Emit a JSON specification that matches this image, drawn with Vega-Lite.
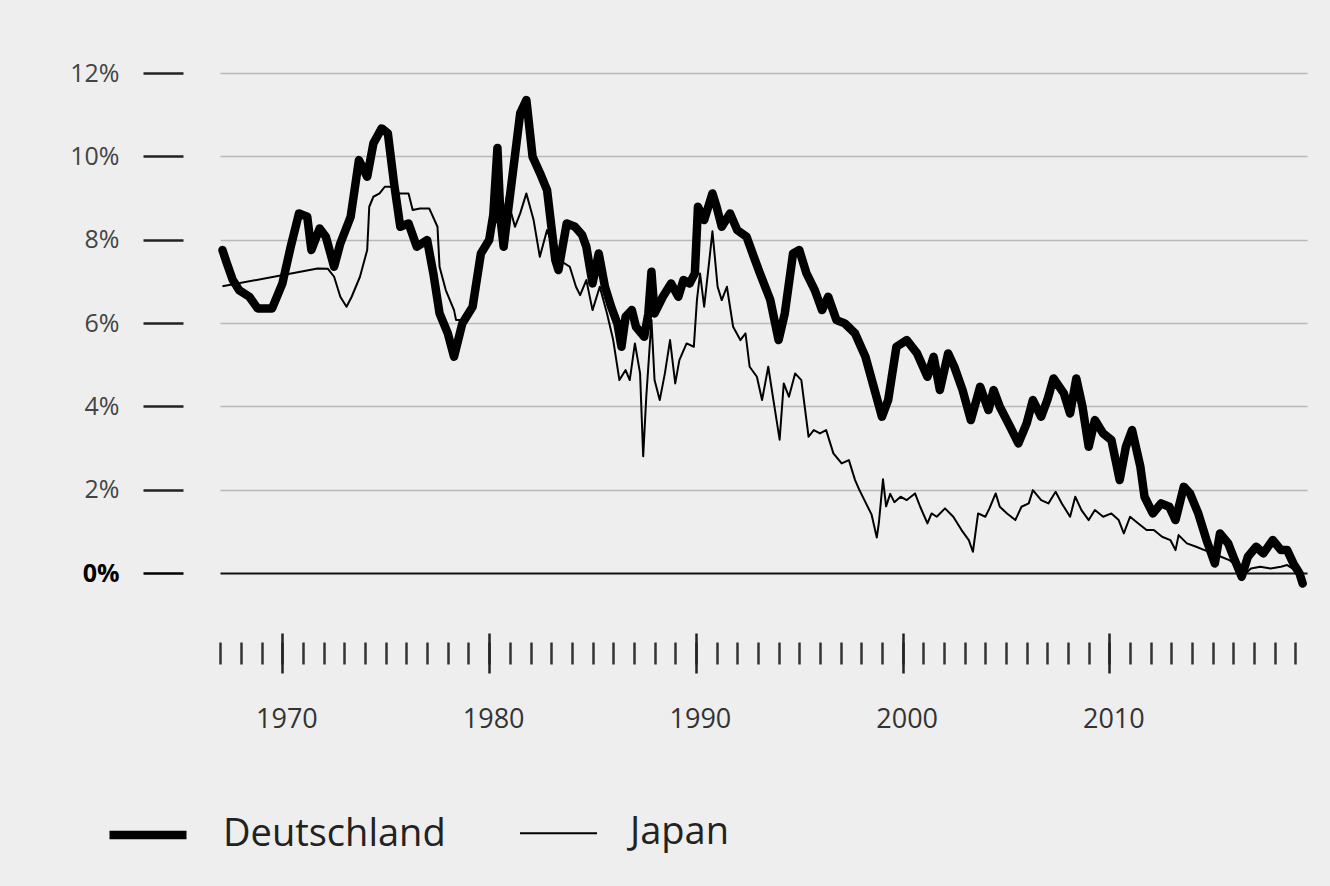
{
  "$schema": "https://vega.github.io/schema/vega-lite/v6.json",
  "autosize": {"type": "none"},
  "width": 1087,
  "height": 500,
  "padding": {"left": 220, "top": 73, "right": 23, "bottom": 313},
  "background": "#eeeeee",
  "config": {
    "view": {"stroke": null},
    "font": "Open Sans",
    "axis": {"labelFont": "Open Sans", "labelColor": "#333333", "domain": false, "title": null}
  },
  "data": {"values": [
    {"jahr": 1967.1, "land": "Deutschland", "wert": 7.75},
    {"jahr": 1967.3, "land": "Deutschland", "wert": 7.45},
    {"jahr": 1967.6, "land": "Deutschland", "wert": 7.03},
    {"jahr": 1967.9, "land": "Deutschland", "wert": 6.79},
    {"jahr": 1968.4, "land": "Deutschland", "wert": 6.63},
    {"jahr": 1968.8, "land": "Deutschland", "wert": 6.35},
    {"jahr": 1969.5, "land": "Deutschland", "wert": 6.35},
    {"jahr": 1970.0, "land": "Deutschland", "wert": 6.95},
    {"jahr": 1970.4, "land": "Deutschland", "wert": 7.83},
    {"jahr": 1970.8, "land": "Deutschland", "wert": 8.63},
    {"jahr": 1971.2, "land": "Deutschland", "wert": 8.55},
    {"jahr": 1971.4, "land": "Deutschland", "wert": 7.75},
    {"jahr": 1971.8, "land": "Deutschland", "wert": 8.27},
    {"jahr": 1972.1, "land": "Deutschland", "wert": 8.07},
    {"jahr": 1972.5, "land": "Deutschland", "wert": 7.35},
    {"jahr": 1972.8, "land": "Deutschland", "wert": 7.91},
    {"jahr": 1973.3, "land": "Deutschland", "wert": 8.55},
    {"jahr": 1973.7, "land": "Deutschland", "wert": 9.91},
    {"jahr": 1974.1, "land": "Deutschland", "wert": 9.51},
    {"jahr": 1974.4, "land": "Deutschland", "wert": 10.31},
    {"jahr": 1974.8, "land": "Deutschland", "wert": 10.67},
    {"jahr": 1975.1, "land": "Deutschland", "wert": 10.55},
    {"jahr": 1975.4, "land": "Deutschland", "wert": 9.35},
    {"jahr": 1975.7, "land": "Deutschland", "wert": 8.31},
    {"jahr": 1976.1, "land": "Deutschland", "wert": 8.39},
    {"jahr": 1976.5, "land": "Deutschland", "wert": 7.83},
    {"jahr": 1977.0, "land": "Deutschland", "wert": 7.99},
    {"jahr": 1977.3, "land": "Deutschland", "wert": 7.19},
    {"jahr": 1977.6, "land": "Deutschland", "wert": 6.23},
    {"jahr": 1978.0, "land": "Deutschland", "wert": 5.75},
    {"jahr": 1978.3, "land": "Deutschland", "wert": 5.19},
    {"jahr": 1978.7, "land": "Deutschland", "wert": 5.99},
    {"jahr": 1979.2, "land": "Deutschland", "wert": 6.39},
    {"jahr": 1979.6, "land": "Deutschland", "wert": 7.67},
    {"jahr": 1980.0, "land": "Deutschland", "wert": 7.99},
    {"jahr": 1980.2, "land": "Deutschland", "wert": 8.6},
    {"jahr": 1980.4, "land": "Deutschland", "wert": 10.2},
    {"jahr": 1980.55, "land": "Deutschland", "wert": 8.5},
    {"jahr": 1980.7, "land": "Deutschland", "wert": 7.83},
    {"jahr": 1981.2, "land": "Deutschland", "wert": 9.83},
    {"jahr": 1981.5, "land": "Deutschland", "wert": 11.03},
    {"jahr": 1981.8, "land": "Deutschland", "wert": 11.35},
    {"jahr": 1982.1, "land": "Deutschland", "wert": 9.99},
    {"jahr": 1982.5, "land": "Deutschland", "wert": 9.55},
    {"jahr": 1982.8, "land": "Deutschland", "wert": 9.19},
    {"jahr": 1983.2, "land": "Deutschland", "wert": 7.51},
    {"jahr": 1983.35, "land": "Deutschland", "wert": 7.27},
    {"jahr": 1983.75, "land": "Deutschland", "wert": 8.39},
    {"jahr": 1984.15, "land": "Deutschland", "wert": 8.31},
    {"jahr": 1984.5, "land": "Deutschland", "wert": 8.11},
    {"jahr": 1984.7, "land": "Deutschland", "wert": 7.83},
    {"jahr": 1985.0, "land": "Deutschland", "wert": 6.95},
    {"jahr": 1985.3, "land": "Deutschland", "wert": 7.67},
    {"jahr": 1985.6, "land": "Deutschland", "wert": 6.87},
    {"jahr": 1985.9, "land": "Deutschland", "wert": 6.39},
    {"jahr": 1986.2, "land": "Deutschland", "wert": 5.99},
    {"jahr": 1986.4, "land": "Deutschland", "wert": 5.43},
    {"jahr": 1986.6, "land": "Deutschland", "wert": 6.15},
    {"jahr": 1986.9, "land": "Deutschland", "wert": 6.31},
    {"jahr": 1987.1, "land": "Deutschland", "wert": 5.91},
    {"jahr": 1987.5, "land": "Deutschland", "wert": 5.67},
    {"jahr": 1987.7, "land": "Deutschland", "wert": 6.23},
    {"jahr": 1987.85, "land": "Deutschland", "wert": 7.23},
    {"jahr": 1988.0, "land": "Deutschland", "wert": 6.23},
    {"jahr": 1988.4, "land": "Deutschland", "wert": 6.63},
    {"jahr": 1988.8, "land": "Deutschland", "wert": 6.95},
    {"jahr": 1989.15, "land": "Deutschland", "wert": 6.63},
    {"jahr": 1989.4, "land": "Deutschland", "wert": 7.03},
    {"jahr": 1989.7, "land": "Deutschland", "wert": 6.95},
    {"jahr": 1989.95, "land": "Deutschland", "wert": 7.19},
    {"jahr": 1990.1, "land": "Deutschland", "wert": 8.79},
    {"jahr": 1990.4, "land": "Deutschland", "wert": 8.47},
    {"jahr": 1990.8, "land": "Deutschland", "wert": 9.11},
    {"jahr": 1991.0, "land": "Deutschland", "wert": 8.79},
    {"jahr": 1991.25, "land": "Deutschland", "wert": 8.31},
    {"jahr": 1991.65, "land": "Deutschland", "wert": 8.63},
    {"jahr": 1992.0, "land": "Deutschland", "wert": 8.23},
    {"jahr": 1992.45, "land": "Deutschland", "wert": 8.07},
    {"jahr": 1992.8, "land": "Deutschland", "wert": 7.59},
    {"jahr": 1993.1, "land": "Deutschland", "wert": 7.19},
    {"jahr": 1993.6, "land": "Deutschland", "wert": 6.55},
    {"jahr": 1994.0, "land": "Deutschland", "wert": 5.59},
    {"jahr": 1994.3, "land": "Deutschland", "wert": 6.23},
    {"jahr": 1994.7, "land": "Deutschland", "wert": 7.67},
    {"jahr": 1995.0, "land": "Deutschland", "wert": 7.75},
    {"jahr": 1995.35, "land": "Deutschland", "wert": 7.19},
    {"jahr": 1995.75, "land": "Deutschland", "wert": 6.79},
    {"jahr": 1996.1, "land": "Deutschland", "wert": 6.31},
    {"jahr": 1996.4, "land": "Deutschland", "wert": 6.63},
    {"jahr": 1996.8, "land": "Deutschland", "wert": 6.07},
    {"jahr": 1997.2, "land": "Deutschland", "wert": 5.99},
    {"jahr": 1997.7, "land": "Deutschland", "wert": 5.75},
    {"jahr": 1998.2, "land": "Deutschland", "wert": 5.19},
    {"jahr": 1998.6, "land": "Deutschland", "wert": 4.47},
    {"jahr": 1999.0, "land": "Deutschland", "wert": 3.75},
    {"jahr": 1999.3, "land": "Deutschland", "wert": 4.15},
    {"jahr": 1999.7, "land": "Deutschland", "wert": 5.43},
    {"jahr": 2000.2, "land": "Deutschland", "wert": 5.59},
    {"jahr": 2000.7, "land": "Deutschland", "wert": 5.27},
    {"jahr": 2001.2, "land": "Deutschland", "wert": 4.71},
    {"jahr": 2001.5, "land": "Deutschland", "wert": 5.19},
    {"jahr": 2001.8, "land": "Deutschland", "wert": 4.39},
    {"jahr": 2002.2, "land": "Deutschland", "wert": 5.27},
    {"jahr": 2002.5, "land": "Deutschland", "wert": 4.95},
    {"jahr": 2002.9, "land": "Deutschland", "wert": 4.39},
    {"jahr": 2003.3, "land": "Deutschland", "wert": 3.67},
    {"jahr": 2003.75, "land": "Deutschland", "wert": 4.47},
    {"jahr": 2004.15, "land": "Deutschland", "wert": 3.91},
    {"jahr": 2004.4, "land": "Deutschland", "wert": 4.39},
    {"jahr": 2004.7, "land": "Deutschland", "wert": 3.99},
    {"jahr": 2005.2, "land": "Deutschland", "wert": 3.51},
    {"jahr": 2005.6, "land": "Deutschland", "wert": 3.11},
    {"jahr": 2006.0, "land": "Deutschland", "wert": 3.59},
    {"jahr": 2006.3, "land": "Deutschland", "wert": 4.15},
    {"jahr": 2006.7, "land": "Deutschland", "wert": 3.75},
    {"jahr": 2007.0, "land": "Deutschland", "wert": 4.15},
    {"jahr": 2007.3, "land": "Deutschland", "wert": 4.67},
    {"jahr": 2007.8, "land": "Deutschland", "wert": 4.31},
    {"jahr": 2008.1, "land": "Deutschland", "wert": 3.83},
    {"jahr": 2008.4, "land": "Deutschland", "wert": 4.67},
    {"jahr": 2008.7, "land": "Deutschland", "wert": 3.99},
    {"jahr": 2009.0, "land": "Deutschland", "wert": 3.03},
    {"jahr": 2009.3, "land": "Deutschland", "wert": 3.67},
    {"jahr": 2009.7, "land": "Deutschland", "wert": 3.35},
    {"jahr": 2010.1, "land": "Deutschland", "wert": 3.19},
    {"jahr": 2010.5, "land": "Deutschland", "wert": 2.23},
    {"jahr": 2010.8, "land": "Deutschland", "wert": 3.03},
    {"jahr": 2011.1, "land": "Deutschland", "wert": 3.43},
    {"jahr": 2011.5, "land": "Deutschland", "wert": 2.55},
    {"jahr": 2011.7, "land": "Deutschland", "wert": 1.83},
    {"jahr": 2012.1, "land": "Deutschland", "wert": 1.43},
    {"jahr": 2012.5, "land": "Deutschland", "wert": 1.67},
    {"jahr": 2012.9, "land": "Deutschland", "wert": 1.59},
    {"jahr": 2013.2, "land": "Deutschland", "wert": 1.27},
    {"jahr": 2013.6, "land": "Deutschland", "wert": 2.07},
    {"jahr": 2013.9, "land": "Deutschland", "wert": 1.91},
    {"jahr": 2014.3, "land": "Deutschland", "wert": 1.43},
    {"jahr": 2014.7, "land": "Deutschland", "wert": 0.79},
    {"jahr": 2015.1, "land": "Deutschland", "wert": 0.23},
    {"jahr": 2015.35, "land": "Deutschland", "wert": 0.95},
    {"jahr": 2015.75, "land": "Deutschland", "wert": 0.71},
    {"jahr": 2016.0, "land": "Deutschland", "wert": 0.39},
    {"jahr": 2016.4, "land": "Deutschland", "wert": -0.09},
    {"jahr": 2016.7, "land": "Deutschland", "wert": 0.39},
    {"jahr": 2017.1, "land": "Deutschland", "wert": 0.63},
    {"jahr": 2017.45, "land": "Deutschland", "wert": 0.47},
    {"jahr": 2017.9, "land": "Deutschland", "wert": 0.79},
    {"jahr": 2018.3, "land": "Deutschland", "wert": 0.55},
    {"jahr": 2018.6, "land": "Deutschland", "wert": 0.55},
    {"jahr": 2018.9, "land": "Deutschland", "wert": 0.23},
    {"jahr": 2019.2, "land": "Deutschland", "wert": -0.01},
    {"jahr": 2019.35, "land": "Deutschland", "wert": -0.25},
    {"jahr": 1967.1, "land": "Japan", "wert": 6.88},
    {"jahr": 1971.7, "land": "Japan", "wert": 7.31},
    {"jahr": 1972.2, "land": "Japan", "wert": 7.3},
    {"jahr": 1972.5, "land": "Japan", "wert": 7.11},
    {"jahr": 1972.8, "land": "Japan", "wert": 6.63},
    {"jahr": 1973.1, "land": "Japan", "wert": 6.39},
    {"jahr": 1973.35, "land": "Japan", "wert": 6.63},
    {"jahr": 1973.75, "land": "Japan", "wert": 7.11},
    {"jahr": 1974.1, "land": "Japan", "wert": 7.75},
    {"jahr": 1974.2, "land": "Japan", "wert": 8.79},
    {"jahr": 1974.4, "land": "Japan", "wert": 9.03},
    {"jahr": 1974.7, "land": "Japan", "wert": 9.11},
    {"jahr": 1974.95, "land": "Japan", "wert": 9.27},
    {"jahr": 1975.3, "land": "Japan", "wert": 9.27},
    {"jahr": 1975.6, "land": "Japan", "wert": 9.11},
    {"jahr": 1976.1, "land": "Japan", "wert": 9.11},
    {"jahr": 1976.3, "land": "Japan", "wert": 8.71},
    {"jahr": 1976.65, "land": "Japan", "wert": 8.75},
    {"jahr": 1977.1, "land": "Japan", "wert": 8.75},
    {"jahr": 1977.5, "land": "Japan", "wert": 8.31},
    {"jahr": 1977.6, "land": "Japan", "wert": 7.35},
    {"jahr": 1977.9, "land": "Japan", "wert": 6.79},
    {"jahr": 1978.3, "land": "Japan", "wert": 6.31},
    {"jahr": 1978.4, "land": "Japan", "wert": 6.07},
    {"jahr": 1978.75, "land": "Japan", "wert": 6.07},
    {"jahr": 1979.1, "land": "Japan", "wert": 6.23},
    {"jahr": 1979.55, "land": "Japan", "wert": 7.59},
    {"jahr": 1980.0, "land": "Japan", "wert": 7.99},
    {"jahr": 1980.35, "land": "Japan", "wert": 8.47},
    {"jahr": 1980.6, "land": "Japan", "wert": 8.31},
    {"jahr": 1980.85, "land": "Japan", "wert": 9.03},
    {"jahr": 1981.25, "land": "Japan", "wert": 8.31},
    {"jahr": 1981.5, "land": "Japan", "wert": 8.63},
    {"jahr": 1981.8, "land": "Japan", "wert": 9.11},
    {"jahr": 1982.15, "land": "Japan", "wert": 8.47},
    {"jahr": 1982.45, "land": "Japan", "wert": 7.59},
    {"jahr": 1982.8, "land": "Japan", "wert": 8.23},
    {"jahr": 1983.1, "land": "Japan", "wert": 7.83},
    {"jahr": 1983.4, "land": "Japan", "wert": 7.51},
    {"jahr": 1983.9, "land": "Japan", "wert": 7.35},
    {"jahr": 1984.2, "land": "Japan", "wert": 6.87},
    {"jahr": 1984.4, "land": "Japan", "wert": 6.67},
    {"jahr": 1984.7, "land": "Japan", "wert": 7.03},
    {"jahr": 1985.0, "land": "Japan", "wert": 6.31},
    {"jahr": 1985.35, "land": "Japan", "wert": 6.87},
    {"jahr": 1985.7, "land": "Japan", "wert": 6.23},
    {"jahr": 1986.0, "land": "Japan", "wert": 5.59},
    {"jahr": 1986.3, "land": "Japan", "wert": 4.63},
    {"jahr": 1986.6, "land": "Japan", "wert": 4.87},
    {"jahr": 1986.8, "land": "Japan", "wert": 4.63},
    {"jahr": 1987.05, "land": "Japan", "wert": 5.51},
    {"jahr": 1987.3, "land": "Japan", "wert": 4.79},
    {"jahr": 1987.45, "land": "Japan", "wert": 2.8},
    {"jahr": 1987.6, "land": "Japan", "wert": 4.23},
    {"jahr": 1987.85, "land": "Japan", "wert": 6.07},
    {"jahr": 1988.0, "land": "Japan", "wert": 4.63},
    {"jahr": 1988.25, "land": "Japan", "wert": 4.15},
    {"jahr": 1988.5, "land": "Japan", "wert": 4.79},
    {"jahr": 1988.75, "land": "Japan", "wert": 5.59},
    {"jahr": 1989.0, "land": "Japan", "wert": 4.55},
    {"jahr": 1989.2, "land": "Japan", "wert": 5.11},
    {"jahr": 1989.55, "land": "Japan", "wert": 5.51},
    {"jahr": 1989.9, "land": "Japan", "wert": 5.43},
    {"jahr": 1990.05, "land": "Japan", "wert": 6.55},
    {"jahr": 1990.2, "land": "Japan", "wert": 7.19},
    {"jahr": 1990.4, "land": "Japan", "wert": 6.39},
    {"jahr": 1990.65, "land": "Japan", "wert": 7.51},
    {"jahr": 1990.8, "land": "Japan", "wert": 8.2},
    {"jahr": 1991.05, "land": "Japan", "wert": 6.87},
    {"jahr": 1991.25, "land": "Japan", "wert": 6.55},
    {"jahr": 1991.5, "land": "Japan", "wert": 6.87},
    {"jahr": 1991.8, "land": "Japan", "wert": 5.91},
    {"jahr": 1992.15, "land": "Japan", "wert": 5.59},
    {"jahr": 1992.4, "land": "Japan", "wert": 5.75},
    {"jahr": 1992.6, "land": "Japan", "wert": 4.95},
    {"jahr": 1992.95, "land": "Japan", "wert": 4.71},
    {"jahr": 1993.2, "land": "Japan", "wert": 4.15},
    {"jahr": 1993.5, "land": "Japan", "wert": 4.95},
    {"jahr": 1993.75, "land": "Japan", "wert": 4.15},
    {"jahr": 1994.05, "land": "Japan", "wert": 3.2},
    {"jahr": 1994.25, "land": "Japan", "wert": 4.55},
    {"jahr": 1994.5, "land": "Japan", "wert": 4.23},
    {"jahr": 1994.8, "land": "Japan", "wert": 4.79},
    {"jahr": 1995.1, "land": "Japan", "wert": 4.63},
    {"jahr": 1995.45, "land": "Japan", "wert": 3.27},
    {"jahr": 1995.7, "land": "Japan", "wert": 3.43},
    {"jahr": 1996.0, "land": "Japan", "wert": 3.35},
    {"jahr": 1996.3, "land": "Japan", "wert": 3.43},
    {"jahr": 1996.65, "land": "Japan", "wert": 2.87},
    {"jahr": 1997.05, "land": "Japan", "wert": 2.63},
    {"jahr": 1997.4, "land": "Japan", "wert": 2.71},
    {"jahr": 1997.7, "land": "Japan", "wert": 2.23},
    {"jahr": 1997.9, "land": "Japan", "wert": 2.0},
    {"jahr": 1998.2, "land": "Japan", "wert": 1.7},
    {"jahr": 1998.5, "land": "Japan", "wert": 1.4},
    {"jahr": 1998.75, "land": "Japan", "wert": 0.85},
    {"jahr": 1998.85, "land": "Japan", "wert": 1.2},
    {"jahr": 1999.05, "land": "Japan", "wert": 2.25},
    {"jahr": 1999.2, "land": "Japan", "wert": 1.6},
    {"jahr": 1999.4, "land": "Japan", "wert": 1.9},
    {"jahr": 1999.6, "land": "Japan", "wert": 1.7},
    {"jahr": 1999.9, "land": "Japan", "wert": 1.83},
    {"jahr": 2000.2, "land": "Japan", "wert": 1.75},
    {"jahr": 2000.6, "land": "Japan", "wert": 1.91},
    {"jahr": 2000.85, "land": "Japan", "wert": 1.59},
    {"jahr": 2001.2, "land": "Japan", "wert": 1.19},
    {"jahr": 2001.4, "land": "Japan", "wert": 1.43},
    {"jahr": 2001.65, "land": "Japan", "wert": 1.35},
    {"jahr": 2002.05, "land": "Japan", "wert": 1.55},
    {"jahr": 2002.45, "land": "Japan", "wert": 1.35},
    {"jahr": 2002.85, "land": "Japan", "wert": 1.03},
    {"jahr": 2003.2, "land": "Japan", "wert": 0.79},
    {"jahr": 2003.4, "land": "Japan", "wert": 0.51},
    {"jahr": 2003.65, "land": "Japan", "wert": 1.43},
    {"jahr": 2004.0, "land": "Japan", "wert": 1.35},
    {"jahr": 2004.2, "land": "Japan", "wert": 1.55},
    {"jahr": 2004.5, "land": "Japan", "wert": 1.91},
    {"jahr": 2004.7, "land": "Japan", "wert": 1.59},
    {"jahr": 2005.05, "land": "Japan", "wert": 1.43},
    {"jahr": 2005.45, "land": "Japan", "wert": 1.27},
    {"jahr": 2005.75, "land": "Japan", "wert": 1.59},
    {"jahr": 2006.1, "land": "Japan", "wert": 1.67},
    {"jahr": 2006.3, "land": "Japan", "wert": 1.99},
    {"jahr": 2006.7, "land": "Japan", "wert": 1.75},
    {"jahr": 2007.05, "land": "Japan", "wert": 1.67},
    {"jahr": 2007.4, "land": "Japan", "wert": 1.95},
    {"jahr": 2007.7, "land": "Japan", "wert": 1.67},
    {"jahr": 2008.1, "land": "Japan", "wert": 1.35},
    {"jahr": 2008.35, "land": "Japan", "wert": 1.83},
    {"jahr": 2008.65, "land": "Japan", "wert": 1.51},
    {"jahr": 2009.0, "land": "Japan", "wert": 1.27},
    {"jahr": 2009.3, "land": "Japan", "wert": 1.51},
    {"jahr": 2009.7, "land": "Japan", "wert": 1.35},
    {"jahr": 2010.1, "land": "Japan", "wert": 1.43},
    {"jahr": 2010.45, "land": "Japan", "wert": 1.27},
    {"jahr": 2010.7, "land": "Japan", "wert": 0.95},
    {"jahr": 2011.0, "land": "Japan", "wert": 1.35},
    {"jahr": 2011.4, "land": "Japan", "wert": 1.19},
    {"jahr": 2011.8, "land": "Japan", "wert": 1.03},
    {"jahr": 2012.15, "land": "Japan", "wert": 1.03},
    {"jahr": 2012.55, "land": "Japan", "wert": 0.87},
    {"jahr": 2012.95, "land": "Japan", "wert": 0.79},
    {"jahr": 2013.2, "land": "Japan", "wert": 0.55},
    {"jahr": 2013.35, "land": "Japan", "wert": 0.91},
    {"jahr": 2013.75, "land": "Japan", "wert": 0.71},
    {"jahr": 2014.2, "land": "Japan", "wert": 0.63},
    {"jahr": 2014.6, "land": "Japan", "wert": 0.55},
    {"jahr": 2015.0, "land": "Japan", "wert": 0.47},
    {"jahr": 2015.4, "land": "Japan", "wert": 0.39},
    {"jahr": 2015.8, "land": "Japan", "wert": 0.31},
    {"jahr": 2016.2, "land": "Japan", "wert": 0.15},
    {"jahr": 2016.5, "land": "Japan", "wert": -0.05},
    {"jahr": 2016.85, "land": "Japan", "wert": 0.11},
    {"jahr": 2017.3, "land": "Japan", "wert": 0.15},
    {"jahr": 2017.8, "land": "Japan", "wert": 0.11},
    {"jahr": 2018.3, "land": "Japan", "wert": 0.15},
    {"jahr": 2018.6, "land": "Japan", "wert": 0.19},
    {"jahr": 2018.85, "land": "Japan", "wert": 0.11},
    {"jahr": 2019.1, "land": "Japan", "wert": -0.01}
  ]},
  "encoding": {
    "y": {
      "field": "wert", "type": "quantitative",
      "scale": {"domain": [0, 12], "nice": false, "zero": false},
      "axis": {
        "values": [0, 2, 4, 6, 8, 10, 12],
        "labelExpr": "datum.value + '%'",
        "offset": 37,
        "tickSize": 40,
        "tickWidth": 2.5,
        "tickColor": {"condition": {"test": "datum.value === 0", "value": "#000000"}, "value": "#222222"},
        "labelPadding": 24,
        "labelFontSize": 25,
        "labelColor": {"condition": {"test": "datum.value === 0", "value": "#000000"}, "value": "#444444"},
        "labelFontWeight": {"condition": {"test": "datum.value === 0", "value": "bold"}, "value": "normal"},
        "grid": true,
        "gridColor": {"condition": {"test": "datum.value === 0", "value": "#111111"}, "value": "#b8b8b8"},
        "gridWidth": {"condition": {"test": "datum.value === 0", "value": 2}, "value": 1.5}
      }
    },
    "strokeWidth": {
      "field": "land", "type": "nominal",
      "scale": {"domain": ["Deutschland", "Japan"], "range": [8.5, 2]},
      "legend": {
        "orient": "none",
        "legendX": -115,
        "legendY": 719,
        "direction": "horizontal",
        "title": null,
        "symbolType": "stroke",
        "symbolSize": 5929,
        "symbolStrokeColor": "#000000",
        "labelFont": "Open Sans",
        "labelFontSize": 38,
        "labelLimit": 0,
        "labelColor": "#222222",
        "labelOffset": 32,
        "columnPadding": 70
      }
    }
  },
  "layer": [
    {
      "transform": [{"filter": "datum.land === 'Deutschland'"}],
      "mark": {"type": "line", "color": "#000000", "strokeJoin": "round", "strokeCap": "round"},
      "encoding": {
        "x": {
          "field": "jahr", "type": "quantitative",
          "scale": {"domain": [1966.98, 2019.56], "nice": false, "zero": false},
          "axis": {
            "orient": "bottom",
            "values": [1967, 1968, 1969, 1970, 1971, 1972, 1973, 1974, 1975, 1976, 1977, 1978, 1979, 1980, 1981, 1982, 1983, 1984, 1985, 1986, 1987, 1988, 1989, 1990, 1991, 1992, 1993, 1994, 1995, 1996, 1997, 1998, 1999, 2000, 2001, 2002, 2003, 2004, 2005, 2006, 2007, 2008, 2009, 2010, 2011, 2012, 2013, 2014, 2015, 2016, 2017, 2018, 2019],
            "labels": false,
            "grid": false,
            "offset": 69,
            "tickSize": 22,
            "tickWidth": 2.5,
            "tickColor": "#333333"
          }
        }
      }
    },
    {
      "transform": [{"filter": "datum.land === 'Japan'"}],
      "mark": {"type": "line", "color": "#000000", "strokeJoin": "round"},
      "encoding": {
        "x": {
          "field": "jahr", "type": "quantitative",
          "axis": {
            "orient": "bottom",
            "values": [1970, 1980, 1990, 2000, 2010],
            "format": "d",
            "grid": false,
            "offset": 60,
            "tickSize": 40,
            "tickWidth": 2.5,
            "tickColor": "#222222",
            "labelPadding": 33,
            "labelFontSize": 27,
            "labelOffset": 4,
            "labelColor": "#333333"
          }
        }
      }
    }
  ],
  "resolve": {"axis": {"x": "independent"}}
}
